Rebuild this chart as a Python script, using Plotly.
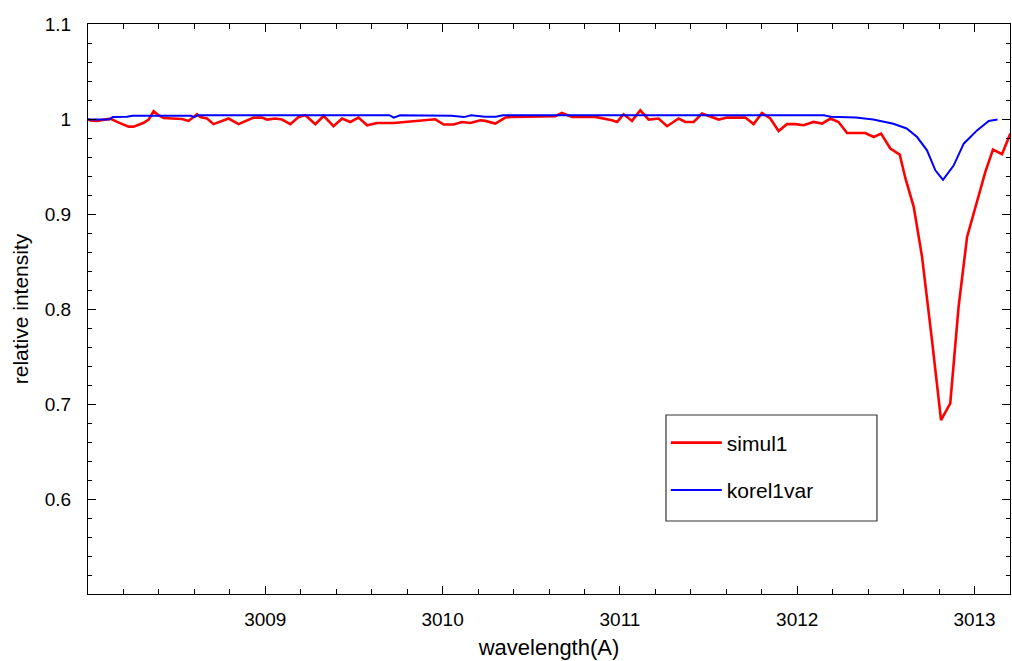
import plotly.graph_objects as go

# simul1 (red)
simul_wl = [3008.000, 3008.013, 3008.051, 3008.126, 3008.164, 3008.229, 3008.257, 3008.314, 3008.342,
            3008.370, 3008.398, 3008.426, 3008.474, 3008.530, 3008.567, 3008.615, 3008.633, 3008.671,
            3008.708, 3008.756, 3008.793, 3008.849, 3008.897, 3008.934, 3008.981, 3009.010, 3009.056,
            3009.094, 3009.141, 3009.188, 3009.226, 3009.282, 3009.329, 3009.385, 3009.433, 3009.479,
            3009.526, 3009.574, 3009.630, 3009.724, 3009.771, 3009.856, 3009.912, 3009.959, 3010.006,
            3010.062, 3010.109, 3010.156, 3010.213, 3010.241, 3010.297, 3010.354, 3010.391, 3010.561,
            3010.636, 3010.673, 3010.730, 3010.861, 3010.908, 3010.955, 3010.984, 3011.021, 3011.068,
            3011.115, 3011.162, 3011.218, 3011.266, 3011.331, 3011.369, 3011.416, 3011.463, 3011.510,
            3011.557, 3011.604, 3011.707, 3011.754, 3011.801, 3011.848, 3011.895, 3011.942, 3011.989,
            3012.036, 3012.092, 3012.140, 3012.187, 3012.233, 3012.281, 3012.384, 3012.431, 3012.473,
            3012.525, 3012.578, 3012.610, 3012.657, 3012.704, 3012.760, 3012.811, 3012.863, 3012.910,
            3012.958, 3013.014, 3013.061, 3013.104, 3013.155, 3013.202]
simul_val = [1.0000, 0.9985, 0.9980, 1.0004, 0.9970, 0.9920, 0.9920, 0.9960, 0.9994,
             1.0082, 1.0040, 1.0010, 1.0005, 1.0000, 0.9980, 1.0050, 1.0020, 1.0005,
             0.9946, 0.9980, 1.0005, 0.9946, 0.9987, 1.0015, 1.0015, 0.9994, 1.0005,
             0.9994, 0.9946, 1.0022, 1.0040, 0.9946, 1.0032, 0.9924, 1.0005, 0.9969,
             1.0015, 0.9934, 0.9958, 0.9958, 0.9966, 0.9980, 0.9997, 0.9997, 0.9942,
             0.9942, 0.9969, 0.9958, 0.9987, 0.9980, 0.9952, 1.0015, 1.0022, 1.0022,
             1.0029, 1.0064, 1.0022, 1.0022, 1.0005, 0.9987, 0.9969, 1.0050, 0.9980,
             1.0092, 0.9994, 1.0005, 0.9924, 1.0005, 0.9969, 0.9969, 1.0057, 1.0029,
             0.9994, 1.0015, 1.0015, 0.9946, 1.0064, 1.0005, 0.9874, 0.9946, 0.9946,
             0.9934, 0.9969, 0.9952, 1.0005, 0.9969, 0.9853, 0.9853, 0.9811, 0.9847,
             0.9689, 0.9626, 0.9377, 0.9075, 0.8549, 0.7672, 0.6831, 0.7006, 0.8023,
             0.8759, 0.9145, 0.9443, 0.9679, 0.9629, 0.9847]

# korel1var (blue)
korel_wl = [3008.000, 3008.120, 3008.140, 3008.220, 3008.250, 3008.580, 3008.600, 3008.620,
            3009.700, 3009.724, 3009.760, 3010.050, 3010.120, 3010.160, 3010.240, 3010.300,
            3010.340, 3012.150, 3012.190, 3012.330, 3012.429, 3012.542, 3012.617, 3012.676,
            3012.732, 3012.779, 3012.822, 3012.882, 3012.939, 3013.014, 3013.080, 3013.130]
korel_val = [0.9995, 0.9995, 1.0020, 1.0025, 1.0035, 1.0035, 1.0020, 1.0040,
             1.0040, 1.0015, 1.0040, 1.0035, 1.0020, 1.0040, 1.0025, 1.0025,
             1.0040, 1.0040, 1.0025, 1.0015, 0.9994, 0.9950, 0.9900, 0.9810,
             0.9670, 0.9460, 0.9360, 0.9510, 0.9740, 0.9880, 0.9980, 0.9994]

x_ticks = [3009, 3010, 3011, 3012, 3013]
y_ticks = [0.6, 0.7, 0.8, 0.9, 1.0, 1.1]
y_tick_text = ["0.6", "0.7", "0.8", "0.9", "1", "1.1"]

FONT = "Liberation Sans, Arial, sans-serif"

fig = go.Figure()
fig.add_trace(go.Scatter(x=simul_wl, y=simul_val, mode="lines", name="simul1",
                         legendgroup="a", line=dict(color="#ff0000", width=2.6)))
fig.add_trace(go.Scatter(x=korel_wl, y=korel_val, mode="lines", name="korel1var",
                         legendgroup="b", line=dict(color="#0000ff", width=2)))

axis_common = dict(showline=True, linecolor="black", linewidth=1, mirror="ticks",
                   ticks="inside", tickcolor="black", ticklen=8, tickwidth=1,
                   showgrid=False, zeroline=False,
                   tickfont=dict(family=FONT, size=19, color="#000"))

fig.update_xaxes(range=[3008, 3013.2], tickvals=x_ticks, ticktext=[str(v) for v in x_ticks],
                 minor=dict(ticks="inside", dtick=0.2, tick0=3008, ticklen=5, tickcolor="black"),
                 title=dict(text="wavelength(A)", font=dict(family=FONT, size=22, color="#000"),
                            standoff=10),
                 ticklabelstandoff=8, **axis_common)
fig.update_yaxes(range=[0.5, 1.1], tickvals=y_ticks, ticktext=y_tick_text,
                 minor=dict(ticks="inside", dtick=0.02, tick0=0.5, ticklen=4, tickcolor="black"),
                 title=dict(text="relative intensity", font=dict(family=FONT, size=21, color="#000"),
                            standoff=10),
                 ticklabelstandoff=12, **axis_common)

# legend frame
fig.add_shape(type="rect", xref="paper", yref="paper",
              x0=0.6269, x1=0.8557, y0=0.1281, y1=0.3140,
              line=dict(color="#333", width=1.2), fillcolor="white", layer="below")

fig.update_layout(
    width=1012, height=661,
    margin=dict(l=88, r=2, t=24, b=67),
    paper_bgcolor="white", plot_bgcolor="white",
    showlegend=True,
    legend=dict(x=0.6267, y=0.3010, xanchor="left", yanchor="top",
                bgcolor="rgba(0,0,0,0)", borderwidth=0,
                font=dict(family=FONT, size=21, color="#000"),
                tracegroupgap=17, itemwidth=51),
)

fig.write_html("out.html")
